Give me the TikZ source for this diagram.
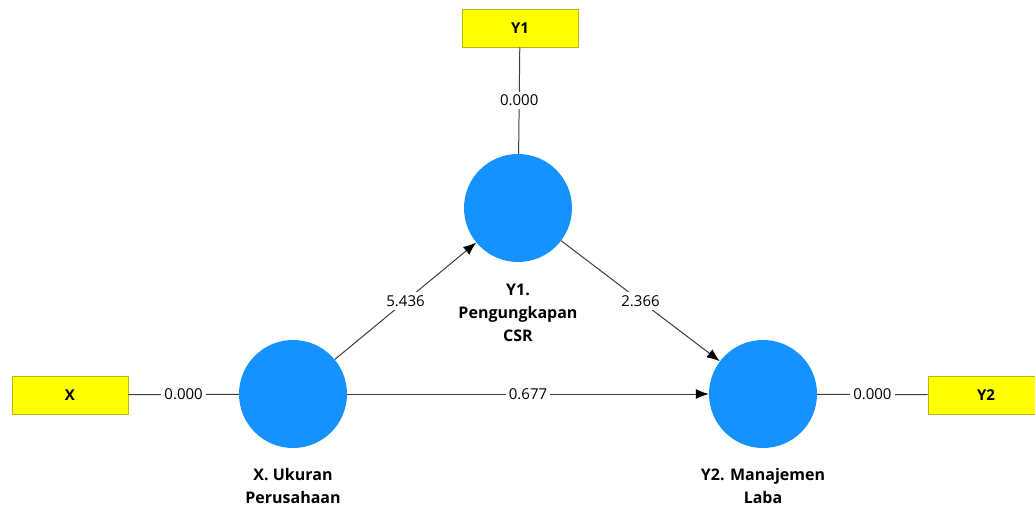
\documentclass[tikz,border=0pt]{standalone}
\usepackage{fontspec}
\setmainfont{Open Sans}
\usetikzlibrary{positioning, arrows.meta}
\definecolor{lvblue}{RGB}{22,146,255}
\definecolor{mvyellow}{RGB}{255,255,0}
\definecolor{mvborder}{RGB}{185,185,20}
\definecolor{linkgray}{RGB}{60,60,60}

\begin{document}
\begin{tikzpicture}[x=1pt, y=-1pt,
    latent/.style={circle, fill=lvblue, minimum size=108pt, inner sep=0pt},
    indicator/.style={rectangle, fill=mvyellow, draw=mvborder, line width=0.8pt,
        minimum width=116pt, minimum height=38pt, font=\bfseries\fontsize{15}{18}\selectfont},
    lvname/.style={align=center, font=\bfseries\fontsize{16}{23}\selectfont},
    weight/.style={fill=white, inner sep=3pt, font=\fontsize{15}{17}\selectfont},
    link/.style={draw=linkgray, line width=1pt},
    path/.style={link, -{Latex[length=13pt, width=10pt, color=black]}}]
    \useasboundingbox (0,0) rectangle (1035,507);

    % latent variables
    \node[latent] (X) at (293,394) {};
    \node[latent] (Y1) at (518,208) {};
    \node[latent] (Y2) at (763,394) {};

    \node[lvname] (Xname) at (293,486) {X. Ukuran\\Perusahaan};
    \node[lvname] (Y1name) at (518,313) {Y1.\\Pengungkapan\\CSR};
    \node[lvname] (Y2name) at (763,486) {Y2. Manajemen\\Laba};

    % indicators
    \node[indicator] (boxX) at (70,395) {X};
    \node[indicator] (boxY1) at (520,28) {Y1};
    \node[indicator] (boxY2) at (986,395) {Y2};

    % outer model
    \draw[link] (boxX) -- node[weight] {0.000} (X);
    \draw[link] (boxY1) -- node[weight] {0.000} (Y1);
    \draw[link] (Y2) -- node[weight] {0.000} (boxY2);

    % inner model
    \draw[path] (X) -- node[weight] {5.436} (Y1);
    \draw[path] (Y1) -- node[weight] {2.366} (Y2);
    \draw[path] (X) -- node[weight] {0.677} (Y2);
\end{tikzpicture}
\end{document}
